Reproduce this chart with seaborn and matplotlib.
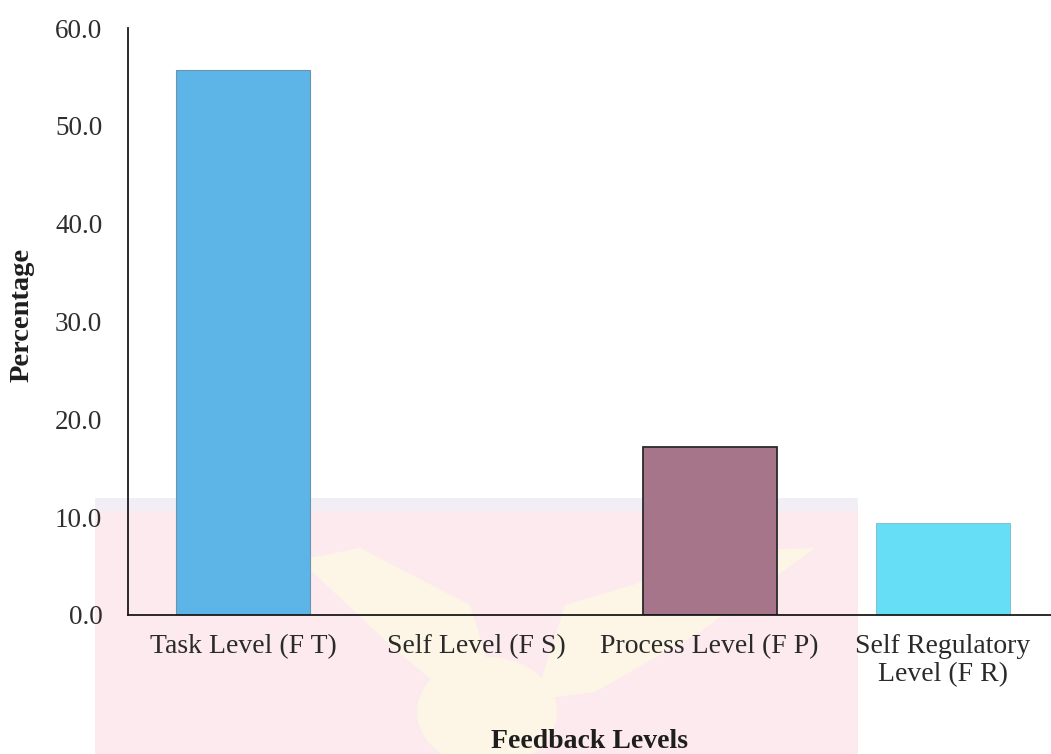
import matplotlib
matplotlib.use("Agg")
import matplotlib.pyplot as plt
import seaborn as sns
import pandas as pd
from matplotlib.patches import Rectangle, Ellipse, Polygon
from matplotlib.ticker import FormatStrFormatter

# Chart data
categories = ["Task Level (F T)", "Self Level (F S)", "Process Level (F P)",
              "Self Regulatory\nLevel (F R)"]
percentages = [55.7, 0.0, 17.2, 9.4]
y_ticks = [0, 10, 20, 30, 40, 50, 60]
x_title = "Feedback Levels"
y_title = "Percentage"

# Styling
bar_colors = ["#5cb4e7", "#ffffff", "#a7758a", "#66def5"]
edge_colors = ["#6d93ad", "none", "#2a2a2a", "#7cb8c8"]
edge_widths = [0.8, 0.0, 1.3, 0.6]

sns.set_style("white")
plt.rcParams["font.family"] = ["Liberation Serif", "DejaVu Serif"]

W, H = 1051, 754
fig = plt.figure(figsize=(W / 100, H / 100), dpi=100)
fig.patch.set_facecolor("white")

# Faint background emblem (drawn in pixel units via inches)
px = fig.dpi_scale_trans


def P(x, y):
    return (x / 100, (H - y) / 100)


fig.add_artist(Rectangle(P(95, 754), (858 - 95) / 100, (754 - 498) / 100,
                         transform=px, facecolor="#fceaee", edgecolor="none", zorder=-3))
fig.add_artist(Rectangle(P(95, 511), (858 - 95) / 100, 13 / 100,
                         transform=px, facecolor="#f1eef6", edgecolor="none", zorder=-2.9))
cream = "#fdf6e6"
fig.add_artist(Polygon([P(300, 560), P(360, 548), P(470, 605), P(500, 700),
                        P(450, 695), P(390, 645)], closed=True, transform=px,
                       facecolor=cream, edgecolor="none", zorder=-2.5))
fig.add_artist(Polygon([P(815, 548), P(750, 550), P(565, 605), P(535, 700),
                        P(595, 692), P(700, 632)], closed=True, transform=px,
                       facecolor=cream, edgecolor="none", zorder=-2.5))
fig.add_artist(Ellipse(P(487, 712), 1.4, 1.1, transform=px,
                       facecolor=cream, edgecolor="none", zorder=-2.5))

# Axes placement
left, bottom_px, top_px = 128, 615, 28
ax = fig.add_axes([left / W, 1 - bottom_px / H, 1 - left / W, (bottom_px - top_px) / H])
ax.set_facecolor("none")

df = pd.DataFrame({"level": categories, "percent": percentages})
sns.barplot(data=df, x="level", y="percent", hue="level", palette=bar_colors,
            legend=False, width=0.575, saturation=1, ax=ax)

for patch, ec, lw in zip(ax.patches, edge_colors, edge_widths):
    patch.set_edgecolor(ec)
    patch.set_linewidth(lw)

ax.set_xlim(-0.493, 3.463)
ax.set_ylim(0, 60)
ax.set_yticks(y_ticks)
ax.yaxis.set_major_formatter(FormatStrFormatter("%.1f"))

sns.despine(ax=ax)
for side in ("left", "bottom"):
    ax.spines[side].set_color("#1a1a1a")
    ax.spines[side].set_linewidth(1.3)

ax.tick_params(axis="y", length=0, pad=18.5, labelsize=19.5, labelcolor="#2e2e2e")
ax.tick_params(axis="x", length=0, pad=13.5, labelsize=20, labelcolor="#2a2a2a")

ax.set_xlabel(x_title, fontsize=20, fontweight="bold", color="#1e1e1e")
ax.xaxis.set_label_coords(0.5, -0.195)
ax.xaxis.label.set_verticalalignment("top")

ax.set_ylabel(y_title, fontsize=20.5, fontweight="bold", color="#1e1e1e")
ax.yaxis.set_label_coords((22 - left) / (W - left), (bottom_px - 315) / (bottom_px - top_px))
ax.yaxis.label.set_verticalalignment("center")
ax.yaxis.label.set_horizontalalignment("center")

fig.savefig("out.png", dpi=100, facecolor="white")
